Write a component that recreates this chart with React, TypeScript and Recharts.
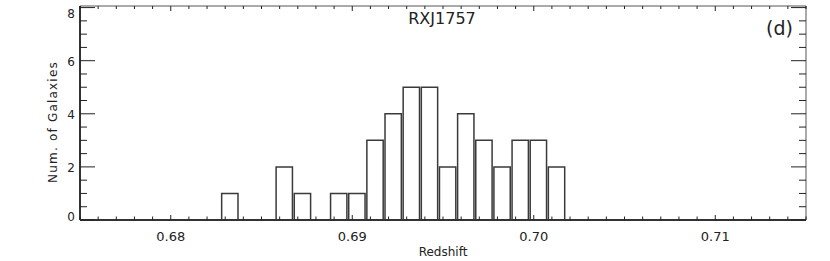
import { ComposedChart, Bar, XAxis, YAxis, Customized } from 'recharts';

// histogram bins (centre of each 0.001 bin) and galaxy counts
const binCenters = [
  0.68325, 0.68425, 0.68525, 0.68625, 0.68725, 0.68825, 0.68925, 0.69025, 0.69125, 0.69225,
  0.69325, 0.69425, 0.69525, 0.69625, 0.69725, 0.69825, 0.69925, 0.70025, 0.70125,
];
const counts = [1, 0, 0, 2, 1, 0, 1, 1, 3, 4, 5, 5, 2, 4, 3, 2, 3, 3, 2];

const xMajorTicks = [0.68, 0.69, 0.7, 0.71];
const xMinorTicks = [
  0.675, 0.676, 0.677, 0.678, 0.679, 0.68, 0.681, 0.682, 0.683, 0.684, 0.685, 0.686, 0.687, 0.688,
  0.689, 0.69, 0.691, 0.692, 0.693, 0.694, 0.695, 0.696, 0.697, 0.698, 0.699, 0.7, 0.701, 0.702,
  0.703, 0.704, 0.705, 0.706, 0.707, 0.708, 0.709, 0.71, 0.711, 0.712, 0.713, 0.714, 0.715,
];
const yMajorTicks = [0, 2, 4, 6, 8];
const yMinorTicks = [0, 0.5, 1, 1.5, 2, 2.5, 3, 3.5, 4, 4.5, 5, 5.5, 6, 6.5, 7, 7.5, 8];

const data = binCenters.map((z, i) => ({ z, n: counts[i] }));

const X_DOMAIN: [number, number] = [0.675, 0.715];
const Y_DOMAIN: [number, number] = [0, 8.06];
const FONT = '"DejaVu Sans", sans-serif';
const INK = '#222';

// every tick is drawn by hand so it can point inward, majors longer than minors
const BottomTick = ({ x, y, payload }: any) => {
  const major = xMajorTicks.includes(payload.value);
  return (
    <g>
      <line x1={x} x2={x} y1={y} y2={y - (major ? 5 : 3.5)} stroke={INK} />
      {major && (
        <text x={x} y={y + 21} textAnchor="middle" fontFamily={FONT} fontSize={13} fill={INK}>
          {payload.value.toFixed(2)}
        </text>
      )}
    </g>
  );
};

const TopTick = ({ x, y, payload }: any) => {
  const major = xMajorTicks.includes(payload.value);
  return <line x1={x} x2={x} y1={y} y2={y + (major ? 5 : 3)} stroke={INK} />;
};

const LeftTick = ({ x, y, payload }: any) => {
  const major = yMajorTicks.includes(payload.value);
  const shift = payload.value === 0 ? -4 : payload.value === 8 ? 5 : 0;
  return (
    <g>
      <line x1={x} x2={x + (major ? 15 : 7)} y1={y} y2={y} stroke={INK} />
      {major && (
        <text x={x - 5} y={y + 5 + shift} textAnchor="end" fontFamily={FONT} fontSize={12} fill={INK}>
          {payload.value}
        </text>
      )}
    </g>
  );
};

const RightTick = ({ x, y, payload }: any) => {
  const major = yMajorTicks.includes(payload.value);
  return <line x1={x} x2={x - (major ? 15 : 7)} y1={y} y2={y} stroke={INK} />;
};

const Annotations = () => (
  <g fontFamily={FONT} fill={INK}>
    <text x={442} y={24} textAnchor="middle" fontSize={16}>RXJ1757</text>
    <text x={793} y={35} textAnchor="end" fontSize={19}>(d)</text>
    <text x={443} y={256} textAnchor="middle" fontSize={12}>Redshift</text>
    <text
      x={57}
      y={122}
      textAnchor="middle"
      fontSize={12}
      letterSpacing={1.2}
      transform="rotate(-90 57 122)"
    >
      Num.  of  Galaxies
    </text>
  </g>
);

export default function App() {
  return (
    <div style={{ position: 'absolute', left: 0, top: 0, background: '#fff' }}>
      <ComposedChart width={830} height={261} data={data} margin={{ top: 6, right: 24, bottom: 0, left: 0 }}>
        <XAxis
          xAxisId="b"
          dataKey="z"
          type="number"
          domain={X_DOMAIN}
          allowDataOverflow
          ticks={xMinorTicks}
          interval={0}
          height={41}
          tickLine={false}
          tickSize={0}
          tickMargin={0}
          tick={BottomTick}
          axisLine={{ stroke: '#333', strokeWidth: 2 }}
        />
        <XAxis
          xAxisId="t"
          dataKey="z"
          orientation="top"
          mirror
          type="number"
          domain={X_DOMAIN}
          allowDataOverflow
          ticks={xMinorTicks}
          interval={0}
          tickLine={false}
          tickSize={0}
          tickMargin={0}
          tick={TopTick}
          axisLine={{ stroke: '#555' }}
        />
        <YAxis
          yAxisId="l"
          dataKey="n"
          type="number"
          domain={Y_DOMAIN}
          allowDataOverflow
          ticks={yMinorTicks}
          interval={0}
          width={80}
          tickLine={false}
          tickSize={0}
          tickMargin={0}
          tick={LeftTick}
          axisLine={{ stroke: '#333', strokeWidth: 2 }}
        />
        <YAxis
          yAxisId="r"
          dataKey="n"
          orientation="right"
          mirror
          type="number"
          domain={Y_DOMAIN}
          allowDataOverflow
          ticks={yMinorTicks}
          interval={0}
          tickLine={false}
          tickSize={0}
          tickMargin={0}
          tick={RightTick}
          axisLine={{ stroke: '#555' }}
        />

        <Bar
          xAxisId="b"
          yAxisId="l"
          dataKey="n"
          barSize={18.15}
          fill="#fff"
          stroke="#3a3a3a"
          strokeWidth={1.5}
          isAnimationActive={false}
        />
        <Customized component={Annotations} />
      </ComposedChart>
    </div>
  );
}
